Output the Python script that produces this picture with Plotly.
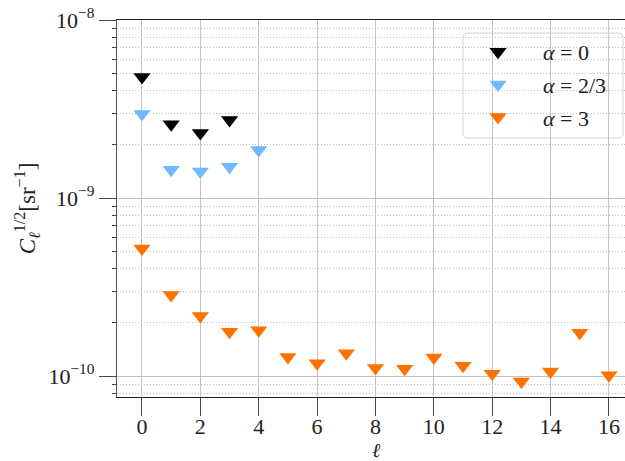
import plotly.graph_objects as go

ell_a0 = [0, 1, 2, 3]
cl_a0 = [4.78e-9, 2.60e-9, 2.32e-9, 2.74e-9]

ell_a23 = [0, 1, 2, 3, 4]
cl_a23 = [2.96e-9, 1.44e-9, 1.41e-9, 1.50e-9, 1.86e-9]

ell_a3 = list(range(17))
cl_a3 = [5.21e-10, 2.85e-10, 2.17e-10, 1.77e-10, 1.81e-10, 1.28e-10, 1.18e-10,
         1.34e-10, 1.11e-10, 1.10e-10, 1.27e-10, 1.14e-10, 1.03e-10, 9.3e-11,
         1.06e-10, 1.75e-10, 1.01e-10]

series = [
    ("<i>α</i> = 0", ell_a0, cl_a0, "#000000"),
    ("<i>α</i> = 2/3", ell_a23, cl_a23, "#72b8fe"),
    ("<i>α</i> = 3", ell_a3, cl_a3, "#ff7200"),
]

x_ticks = [0, 2, 4, 6, 8, 10, 12, 14, 16]
y_ticks = [1e-10, 1e-9, 1e-8]
y_tick_text = ["10<sup>−10</sup>", "10<sup>−9</sup>", "10<sup>−8</sup>"]
y_minor = [m * 10.0 ** e for e in (-11, -10, -9) for m in range(2, 10)]

FONT = "Liberation Serif"
W, H = 625, 461
L, R, T, B = 117, 0, 20, 64
PW, PH = W - L - R, H - T - B


def px(xp):
    return (xp - L) / PW


def py(yp):
    return (H - B - yp) / PH


fig = go.Figure()
for i, (name, x, y, c) in enumerate(series):
    fig.add_trace(go.Scatter(
        x=x, y=y, mode="markers", name=name, legendgroup=f"g{i}",
        marker=dict(symbol="triangle-down", size=15, color=c, line=dict(width=0)),
    ))

# legend frame (rounded box)
x0, x1, y0, y1, r = 463, 623, 33, 138, 5
path = (f"M {px(x0 + r)},{py(y0)} L {px(x1 - r)},{py(y0)} "
        f"Q {px(x1)},{py(y0)} {px(x1)},{py(y0 + r)} "
        f"L {px(x1)},{py(y1 - r)} Q {px(x1)},{py(y1)} {px(x1 - r)},{py(y1)} "
        f"L {px(x0 + r)},{py(y1)} Q {px(x0)},{py(y1)} {px(x0)},{py(y1 - r)} "
        f"L {px(x0)},{py(y0 + r)} Q {px(x0)},{py(y0)} {px(x0 + r)},{py(y0)} Z")

fig.update_layout(
    width=W, height=H,
    margin=dict(l=L, r=R, t=T, b=B, autoexpand=False),
    template="none",
    paper_bgcolor="white", plot_bgcolor="white",
    font=dict(family=FONT, size=22, color="#222222"),
    showlegend=True,
    legend=dict(
        x=px(453), y=py(31), xanchor="left", yanchor="top",
        bgcolor="rgba(0,0,0,0)", borderwidth=0,
        font=dict(family=FONT, size=22, color="#222222"),
        itemwidth=80,
        tracegroupgap=1, traceorder="grouped",
    ),
    shapes=[dict(type="path", xref="paper", yref="paper", path=path,
                 fillcolor="rgba(255,255,255,0.85)",
                 line=dict(color="#d4d4d4", width=1), layer="between")],
    annotations=[dict(text="<i>ℓ</i>", xref="paper", yref="paper",
                      x=px(376), y=py(450), xanchor="center", yanchor="middle",
                      showarrow=False, borderpad=0,
                      font=dict(family=FONT, size=20, color="#222222"))],
)

fig.update_xaxes(
    range=[-0.856, 16.55], automargin=False,
    tickmode="array", tickvals=x_ticks,
    ticks="outside", ticklen=18, tickwidth=1, tickcolor="#444444",
    tickfont=dict(family=FONT, size=22),
    ticklabelstandoff=-9,
    showline=True, linecolor="#222222", linewidth=1.2, mirror=True,
    showgrid=True, gridcolor="#c4c4c4", gridwidth=1.4,
    zeroline=False,
)

fig.update_yaxes(
    type="log", range=[-10.118, -8.0], automargin=False,
    tickmode="array", tickvals=y_ticks, ticktext=y_tick_text,
    ticks="outside", ticklen=17, tickwidth=1, tickcolor="#444444",
    tickfont=dict(family=FONT, size=22),
    showline=True, linecolor="#555555", linewidth=1.2,
    showgrid=True, gridcolor="#c4c4c4", gridwidth=1.2,
    zeroline=False,
    minor=dict(tickmode="array", tickvals=y_minor, ticks="outside", ticklen=4,
               tickcolor="#444444", showgrid=True, gridcolor="#bdbdbd",
               griddash="1px,2px", gridwidth=1),
    title=dict(text="<i>C</i><sub><i>ℓ</i></sub><sup>1/2</sup>[sr<sup>−1</sup>]",
               standoff=6, font=dict(family=FONT, size=23)),
)

fig.write_html("out.html", config={"displayModeBar": False},
               post_script="document.body.style.margin='0';")
